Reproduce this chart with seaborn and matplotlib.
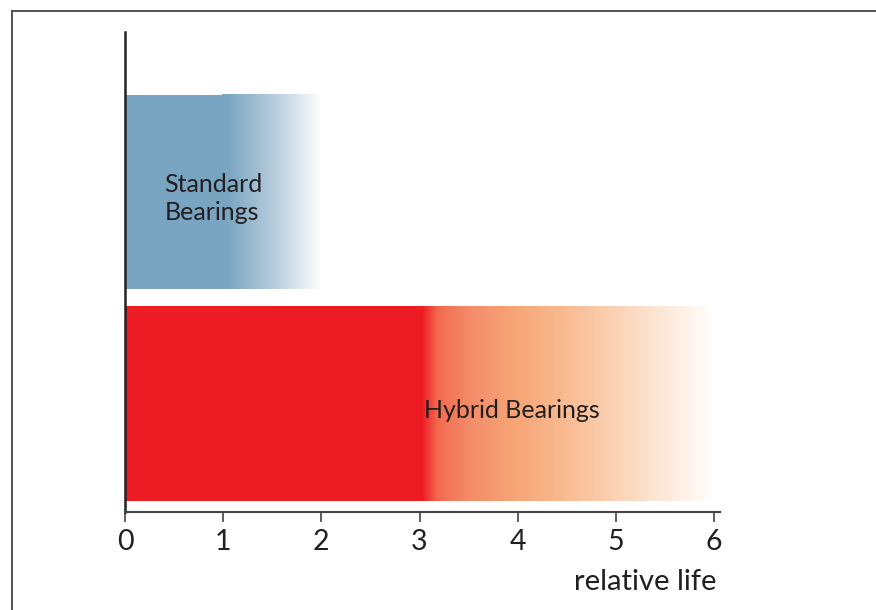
import numpy as np
import pandas as pd
import matplotlib
matplotlib.use("Agg")
import matplotlib.pyplot as plt
from matplotlib.colors import LinearSegmentedColormap
from matplotlib.lines import Line2D
import seaborn as sns

# ---- data ----
categories = ["Standard\nBearings", "Hybrid Bearings"]
solid_life = [1.0, 3.0]      # solid part of each bar
total_life = [2.0, 6.0]      # end of the faded part
xticks = [0, 1, 2, 3, 4, 5, 6]
xlabel = "relative life"

# ---- style ----
sns.set_theme(style="white")
plt.rcParams['font.family'] = ['Lato', 'DejaVu Sans']

bar_colors = ["#79A5C2", "#ED1C24"]
fade_stops = [
    [(0.0, "#79A5C2"), (0.05, "#79A5C2"), (0.5, "#B4CBDB"), (1.0, "#FFFFFF")],
    [(0.0, "#ED1C24"), (0.008, "#ED1C24"), (0.06, "#F26A4E"), (0.18, "#F48E6C"),
     (0.33, "#F7A677"), (0.5, "#F9BC93"), (0.67, "#FBD3B5"), (0.85, "#FDEBDD"), (1.0, "#FFFFFF")],
]

fig = plt.figure(figsize=(8.76, 6.10), dpi=100)
ax = fig.add_axes([125/876, 1-512/610, (720-125)/876, (512-32)/610])

df = pd.DataFrame({"category": categories, "life": solid_life})
bar_h = 0.92
sns.barplot(data=df, x="life", y="category", hue="category", palette=bar_colors,
            orient="h", width=bar_h, legend=False, ax=ax, saturation=1, linewidth=0)

for i, (s, t) in enumerate(zip(solid_life, total_life)):
    cmap = LinearSegmentedColormap.from_list(f"fade{i}", fade_stops[i])
    grad = np.linspace(0, 1, 400).reshape(1, -1)
    ax.imshow(grad, cmap=cmap, aspect="auto", interpolation="bilinear",
              extent=(s - 0.01, t, i + bar_h/2, i - bar_h/2), zorder=1)

ax.set_xlim(0, 6.06)
ax.set_ylim(1.513, -0.757)

# labels inside bars
ax.text(0.4, 0.03, categories[0], fontsize=18, color="#231F20", va="center", ha="left",
        linespacing=1.25, zorder=3)
ax.text(3.05, 1.035, categories[1], fontsize=18, color="#231F20", va="center", ha="left",
        zorder=3)

ax.set_yticks([])
ax.set_ylabel("")
ax.set_xticks(xticks)
ax.set_xticklabels([str(v) for v in xticks], fontsize=20.5, color="#231F20")
ax.tick_params(axis="x", direction="out", length=7, width=1.2, color="#444444",
               bottom=True, pad=5)
ax.set_xlabel("")
fig.text(716/876, 1-582/610, xlabel, fontsize=21, color="#231F20", ha="right", va="center")

for side in ["top", "right"]:
    ax.spines[side].set_visible(False)
ax.spines["left"].set_color("#222222")
ax.spines["left"].set_linewidth(1.8)
ax.spines["bottom"].set_color("#444444")
ax.spines["bottom"].set_linewidth(1.5)

# outer frame (top and left)
fig.add_artist(Line2D([11.5/876, 11.5/876], [0, 1-10.5/610], transform=fig.transFigure,
                      color="#444444", lw=1.3))
fig.add_artist(Line2D([11.5/876, 1], [1-10.5/610, 1-10.5/610], transform=fig.transFigure,
                      color="#444444", lw=1.3))

fig.savefig("out.png", dpi=100)
